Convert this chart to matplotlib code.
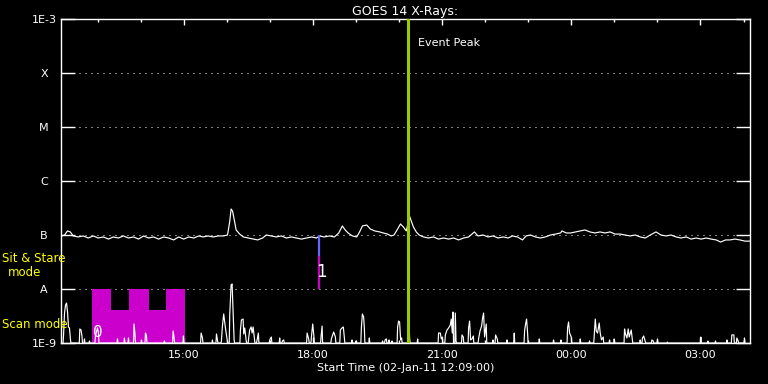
import numpy as np
import matplotlib
matplotlib.use("Agg")
import matplotlib.pyplot as plt
from matplotlib.ticker import NullLocator

# ---------------- data (x in minutes after 02-Jan-11 12:09:00) ----------------
goes_min = [1, 5, 9, 13, 17, 24, 31, 38, 45, 52, 59, 66, 73, 80, 87, 94, 101, 108, 115, 122,
            129, 136, 143, 150, 157, 164, 171, 178, 185, 192, 198, 205, 212, 219, 226, 232, 235, 237, 239, 242,
            244, 249, 254, 261, 268, 274, 281, 286, 293, 300, 307, 314, 321, 328, 335, 342, 349, 356, 360, 367,
            374, 381, 387, 392, 396, 400, 406, 412, 416, 420, 426, 431, 437, 444, 449, 455, 460, 464, 469, 473,
            477, 481, 484, 485, 488, 491, 495, 499, 505, 512, 519, 526, 533, 540, 547, 554, 561, 568, 576, 581,
            588, 595, 602, 609, 616, 623, 629, 636, 643, 648, 654, 661, 668, 675, 682, 689, 696, 698, 704, 710,
            717, 724, 730, 737, 744, 751, 758, 765, 772, 779, 786, 793, 800, 807, 814, 821, 829, 836, 843, 850,
            857, 864, 871, 878, 885, 892, 899, 906, 913, 919, 926, 932, 939, 946, 953, 960]
goes_flux_e8 = [9.6, 10.0, 11.9, 11.4, 9.6, 9.2, 9.6, 8.8, 9.6, 8.8, 9.2, 8.4, 9.2, 8.8, 9.6, 8.8, 9.2, 8.4, 9.6, 8.8,
                9.2, 8.4, 9.2, 8.8, 8.1, 9.2, 8.4, 9.2, 8.8, 9.6, 9.2, 9.6, 9.2, 9.6, 9.6, 10.0, 17.4, 30.3, 27.8, 17.4,
                12.4, 10.4, 9.2, 8.8, 8.4, 8.1, 8.8, 10.0, 9.6, 9.2, 9.6, 8.8, 9.2, 8.8, 8.4, 8.8, 9.2, 8.8, 9.6, 9.2,
                9.6, 9.2, 10.9, 14.7, 12.4, 10.9, 9.6, 9.2, 11.4, 14.7, 15.3, 12.9, 11.9, 11.4, 10.9, 10.4, 9.6, 10.0, 12.9, 16.0,
                14.1, 11.9, 17.4, 23.5, 18.2, 14.1, 11.4, 10.0, 9.2, 8.8, 9.2, 8.4, 8.8, 8.4, 8.8, 8.1, 8.8, 9.2, 11.4, 9.6,
                10.0, 9.2, 9.6, 8.8, 9.2, 8.8, 9.6, 9.2, 8.1, 9.6, 10.0, 9.2, 8.8, 9.2, 10.0, 10.4, 10.9, 11.9, 10.9, 10.9,
                11.4, 11.9, 12.4, 11.4, 10.9, 11.4, 10.9, 11.4, 10.4, 10.4, 10.0, 9.6, 10.0, 9.2, 8.8, 10.0, 11.4, 10.0, 9.6, 10.0,
                9.2, 8.8, 9.2, 8.4, 8.8, 8.4, 8.8, 8.4, 8.1, 7.4, 8.1, 8.1, 8.4, 8.1, 7.7, 7.7]

spike_min = [3.5, 4.9, 6.3, 7.7, 9.1, 10.4, 11.8, 13.2,
             26.2, 27.9, 29.2, 32.7, 39.7, 48.0, 50.8, 52.2, 78.7, 88.4, 94.0,
             101.7, 103.1, 112.1, 117.7, 119.1, 144.1, 156.2, 157.6, 170.6, 195.2, 197.1,
             211.0, 216.6, 218.0, 223.5,
             224.9, 226.7, 229.1, 231.5, 235.1, 237.0, 238.4, 239.8, 241.2,
             250.0, 251.4, 253.7, 254.6, 256.0, 257.9,
             261.5, 262.9, 264.9, 266.3, 267.7, 269.5, 273.2, 275.0,
             290.8, 293.1, 304.7, 308.5, 310.3,
             342.9, 345.1, 348.9, 350.7, 352.3, 362.4, 363.8,
             376.7, 378.5, 379.9, 382.3, 389.2, 391.6, 393.4, 394.8,
             405.5, 411.1, 418.5, 419.9, 421.7, 422.7, 429.6,
             448.1, 451.5, 453.3, 457.1, 461.2,
             469.0, 470.4, 471.8, 473.2, 474.6, 484.3, 485.7, 496.9,
             526.1, 528.5, 529.9, 531.3,
             535.5, 537.8, 540.1, 542.4, 543.8, 545.2, 546.2, 549.4, 550.4,
             558.7, 560.5, 567.9, 569.3, 570.7, 572.6, 574.5,
             581.8, 583.8, 586.0, 587.4, 588.8, 590.2, 592.5,
             601.9, 605.5, 607.9, 621.4, 631.5,
             645.9, 647.3, 648.7, 650.1, 666.4, 686.3, 696.6,
             705.8, 707.2, 708.6, 711.0, 723.5, 736.4,
             743.0, 744.4, 745.8, 747.6, 749.9, 751.3, 753.1, 755.5,
             764.3, 770.8, 785.2, 786.5, 788.5, 790.3, 791.7, 794.5, 795.9,
             807.0, 810.2, 811.9, 814.0, 823.3, 825.1, 831.1, 845.0,
             891.5, 901.3, 911.9, 927.8, 934.7, 937.5, 941.7, 943.5, 952.3]
spike_val_e9 = [1.35, 3.59, 5.05, 5.50, 3.75, 1.98, 1.90, 1.14,
                1.82, 1.74, 1.35, 1.19, 1.09, 1.35, 1.90, 1.53, 1.19, 1.24, 1.24,
                2.25, 1.47, 1.14, 1.53, 1.35, 1.09, 1.67, 1.24, 1.35, 1.53, 1.24,
                1.14, 1.47, 1.14, 1.09,
                2.06, 3.44, 1.90, 1.14, 3.30, 11.9, 12.4, 3.59, 1.14,
                1.74, 2.67, 2.78, 1.47, 1.90, 1.14,
                1.24, 1.74, 1.98, 1.53, 1.98, 1.24, 1.14, 1.53,
                1.14, 1.29, 1.24, 1.09, 1.14,
                1.53, 1.19, 1.29, 2.25, 1.35, 1.35, 2.06,
                1.19, 1.41, 1.60, 1.29, 1.74, 1.90, 1.98, 1.29,
                1.14, 1.09, 1.90, 3.44, 3.03, 1.82, 1.24,
                1.09, 1.14, 1.19, 1.14, 1.09,
                1.98, 2.55, 2.45, 1.14, 1.24, 4.08, 1.24, 1.19,
                1.53, 1.53, 1.19, 1.29,
                1.41, 1.74, 1.90, 2.15, 2.78, 1.53, 3.75, 3.59, 1.09,
                1.41, 1.29, 1.90, 2.55, 1.14, 1.19, 1.35,
                1.19, 1.67, 2.06, 2.90, 3.59, 1.29, 2.25,
                1.14, 1.41, 1.19, 1.14, 1.53,
                1.67, 2.25, 2.78, 1.53, 1.19, 1.14, 1.14,
                1.90, 2.45, 1.53, 1.29, 1.19, 1.09,
                1.41, 2.78, 1.67, 1.53, 2.34, 1.53, 1.14, 1.29,
                1.14, 1.19, 1.82, 1.47, 1.24, 1.82, 1.29, 1.74, 1.19,
                1.14, 1.24, 1.35, 1.09, 1.14, 1.09, 1.19, 1.04,
                1.29, 1.09, 1.09, 1.14, 1.41, 1.41, 1.24, 1.09, 1.24]

scan_edges_min = [43, 70, 95, 122, 146, 173]
scan_levels = [1.0e-8, 4.1e-9, 1.0e-8, 4.1e-9, 1.0e-8]

sitstare_min = 359
sitstare_blue = (4.1e-8, 1.0e-7)
sitstare_magenta = (1.0e-8, 4.1e-8)

event_peak_min = 483

ytick_vals = [1e-9, 1e-8, 1e-7, 1e-6, 1e-5, 1e-4, 1e-3]
ytick_labels = ['1E-9', 'A', 'B', 'C', 'M', 'X', '1E-3']
grid_levels = [1e-8, 1e-7, 1e-6, 1e-5, 1e-4]
xtick_major_min = [171, 351, 531, 711, 891]
xtick_labels = ['15:00', '18:00', '21:00', '00:00', '03:00']
xtick_minor_min = [51, 111, 231, 291, 411, 471, 591, 651, 771, 831, 951]

assert len(goes_min) == len(goes_flux_e8)
assert len(spike_min) == len(spike_val_e9)

# ---------------- figure ----------------
W, H = 768, 384
fig = plt.figure(figsize=(W / 100, H / 100), dpi=100, facecolor='black')
ax = fig.add_axes([61 / W, 41 / H, 689 / W, 324 / H], facecolor='black')
ax.set_yscale('log')
ax.set_xlim(0, 960)
ax.set_ylim(1e-9, 1e-3)

FS = 8
PX = 0.72  # one pixel in points

for s in ax.spines.values():
    s.set_color('white')
    s.set_linewidth(1.0)

# dotted level lines
for lv in grid_levels:
    ax.axhline(lv, color='white', lw=PX, ls=(0, (1, 5)), zorder=1)

# scan mode blocks
ax.stairs(scan_levels, scan_edges_min, baseline=1e-9, fill=True, color='#CC00CC', zorder=2)

# spike series
xs, ys = [], []
prev = None
base = 1e-9
for t, v in zip(spike_min, spike_val_e9):
    if prev is None or t - prev > 3.0:
        if prev is not None:
            xs.append(prev + 0.7); ys.append(base)
        xs.append(t - 0.7); ys.append(base)
    xs.append(t); ys.append(v * 1e-9)
    prev = t
xs.append(prev + 0.7); ys.append(base)
ax.plot(xs, ys, color='white', lw=0.85, zorder=3, clip_on=True)

# GOES curve
ax.plot(goes_min, np.array(goes_flux_e8) * 1e-8, color='white', lw=0.85, zorder=4)

# sit & stare marker
ax.vlines(sitstare_min, *sitstare_blue, color='#6666FF', lw=1.6, zorder=5)
ax.vlines(sitstare_min, *sitstare_magenta, color='#CC00CC', lw=1.6, zorder=5)
ax.text(sitstare_min + 3.5, 2.1e-8, '1', color='white', fontsize=12, ha='center', va='center', zorder=6)
ax.text(50.8, 1.55e-9, '0', color='white', fontsize=11, ha='center', va='center', zorder=6)

# event peak
ax.axvline(event_peak_min, color='#99CC00', lw=2.2, zorder=5)
ax.text(497, 3.6e-4, 'Event Peak', color='white', fontsize=FS, ha='left', va='center')

# ticks
ax.set_yticks(ytick_vals, ytick_labels)
ax.yaxis.set_minor_locator(NullLocator())
ax.tick_params(axis='y', which='major', direction='in', length=14 * PX, width=1.0,
               color='white', left=True, right=True, labelcolor='white', labelsize=FS, pad=12.2)
for lab in ax.get_yticklabels():
    lab.set_horizontalalignment('center')

ax.set_xticks(xtick_major_min, xtick_labels)
ax.set_xticks(xtick_minor_min, minor=True)
ax.tick_params(axis='x', which='major', direction='in', length=6 * PX, width=1.0, color='white',
               top=True, bottom=True, labelcolor='white', labelsize=FS, pad=5)
ax.tick_params(axis='x', which='minor', direction='in', length=3 * PX, width=1.0, color='white',
               top=True, bottom=True)

ax.set_xlabel('Start Time (02-Jan-11 12:09:00)', color='white', fontsize=FS, labelpad=2)
ax.set_title('GOES 14 X-Rays:', color='white', fontsize=9, pad=3)

# left side mode labels
fig.text(2 / W, 1 - 259 / H, 'Sit & Stare', color='#FFFF00', fontsize=8.5, ha='left', va='center')
fig.text(24.5 / W, 1 - 272 / H, 'mode', color='#FFFF00', fontsize=8.5, ha='center', va='center')
fig.text(2 / W, 1 - 324 / H, 'Scan mode', color='#FFFF00', fontsize=8.5, ha='left', va='center')

fig.savefig('out.png', dpi=100, facecolor='black')
